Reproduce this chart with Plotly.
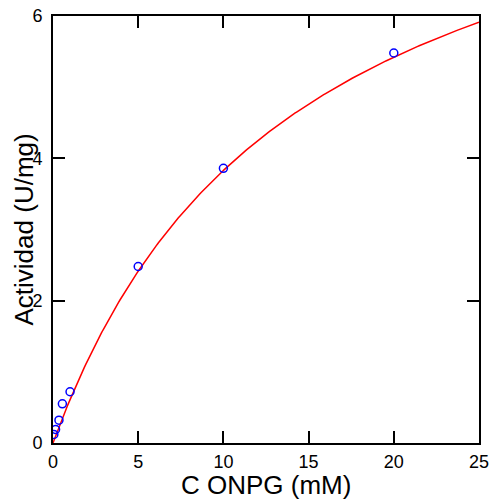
import numpy as np
import plotly.graph_objects as go

# Measured data
conc_mM = [0.05, 0.15, 0.35, 0.55, 1.0, 5.0, 10.0, 20.0]
actividad = [0.12, 0.19, 0.32, 0.55, 0.72, 2.48, 3.86, 5.48]

# Michaelis-Menten fit parameters
Vmax = 9.27
Km = 14.2

x_fit = np.linspace(0, 25, 300)
y_fit = Vmax * x_fit / (Km + x_fit)

x_ticks = [0, 5, 10, 15, 20, 25]
y_ticks = [0, 2, 4, 6]

fig = go.Figure()
fig.add_trace(go.Scatter(x=x_fit, y=y_fit, mode="lines",
                         line=dict(color="red", width=1.5), showlegend=False))
fig.add_trace(go.Scatter(x=conc_mM, y=actividad, mode="markers",
                         marker=dict(symbol="circle-open", color="blue", size=8,
                                     line=dict(width=1.5, color="blue")),
                         showlegend=False))

axis_common = dict(showgrid=False, zeroline=False, showline=True, linecolor="black",
                   linewidth=2, ticks="inside", ticklen=12, tickwidth=1.5,
                   tickcolor="black", mirror="ticks", automargin=False,
                   ticklabeloverflow="allow",
                   tickfont=dict(family="Liberation Sans, Arial", size=18, color="black"))

fig.update_layout(
    width=489, height=501,
    margin=dict(l=53, r=10, t=16, b=58, autoexpand=False),
    plot_bgcolor="white", paper_bgcolor="white",
    xaxis=dict(range=[0, 25], tickvals=x_ticks, ticklabelstandoff=1,
               **axis_common),
    yaxis=dict(range=[0, 6], tickvals=y_ticks, ticklabelstandoff=5,
               **axis_common),
    annotations=[
        dict(text="Actividad (U/mg)", textangle=-90, xref="paper", yref="paper",
             x=0, y=0.5, xshift=-30, xanchor="center", yanchor="middle",
             showarrow=False,
             font=dict(family="Liberation Sans, Arial", size=26, color="black")),
        dict(text="C ONPG (mM)", xref="paper", yref="paper",
             x=0.5, y=0, yshift=-42, xanchor="center", yanchor="middle",
             showarrow=False,
             font=dict(family="Liberation Sans, Arial", size=26, color="black")),
    ],
)

fig.write_html("out.html")
